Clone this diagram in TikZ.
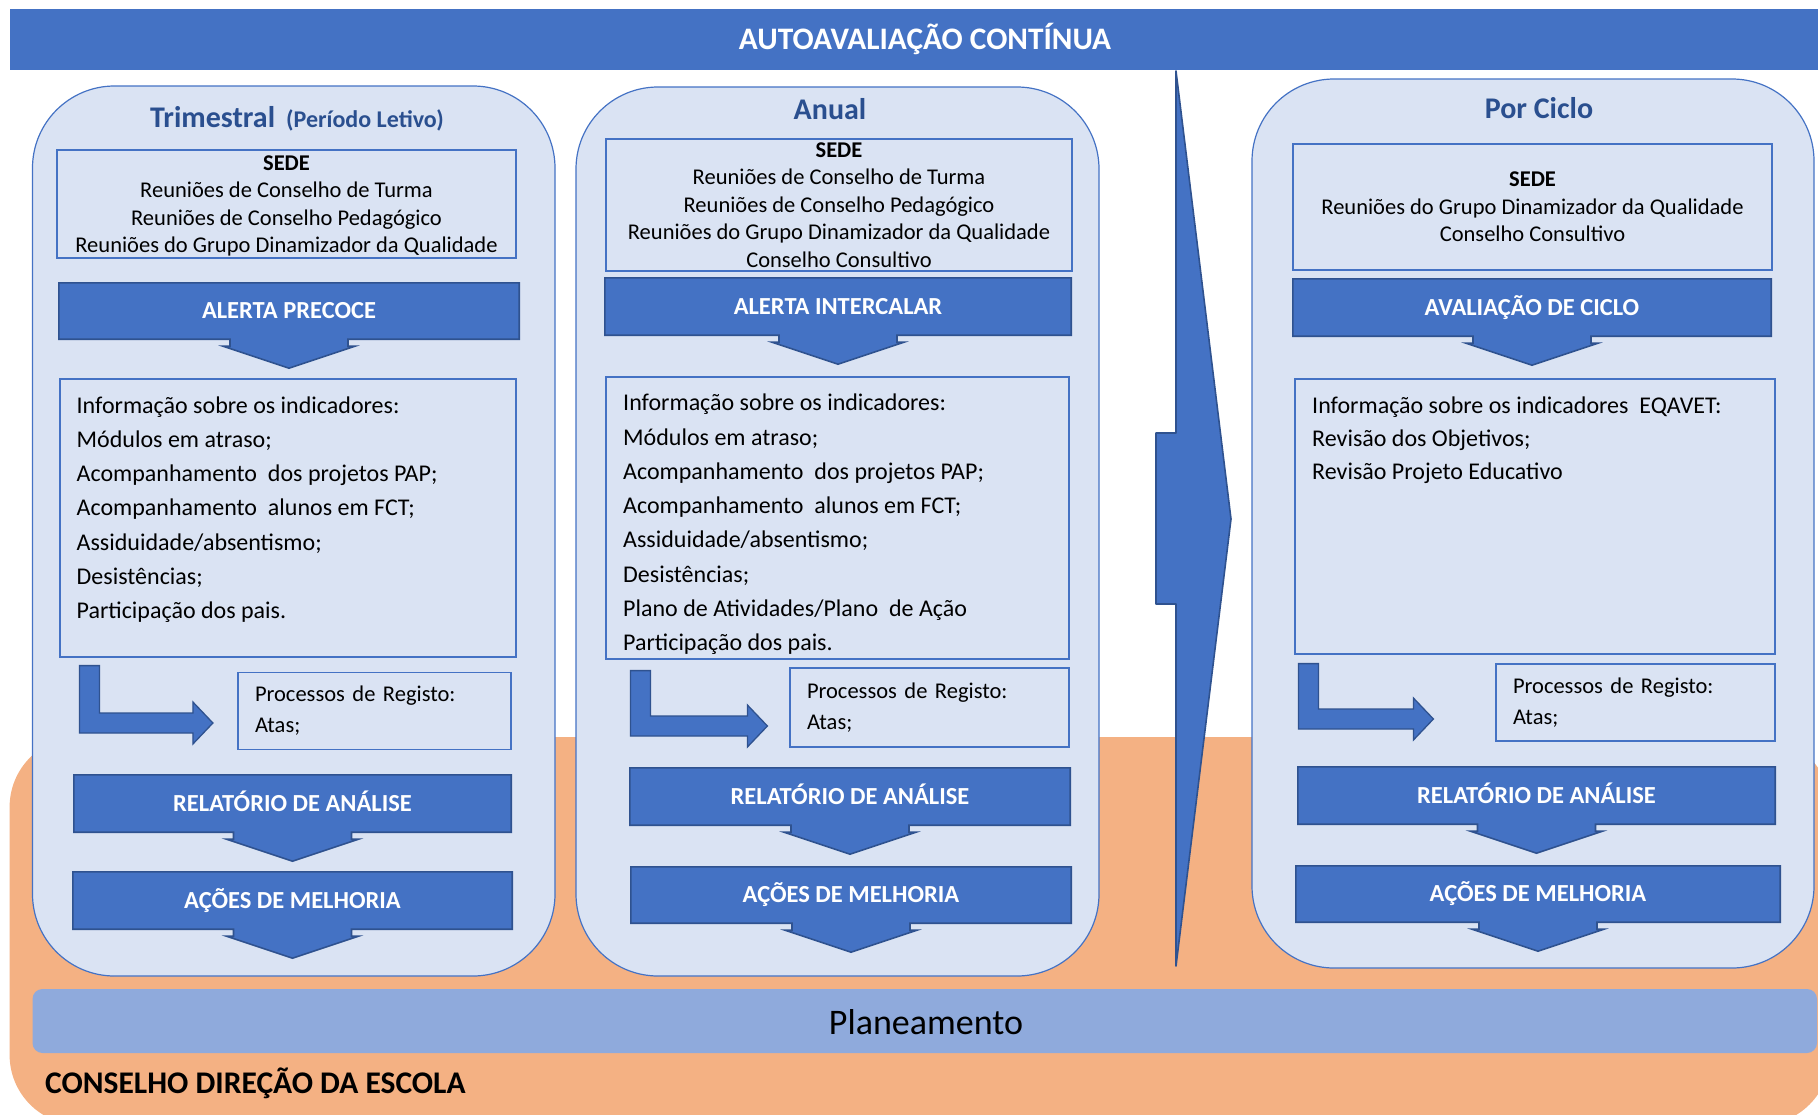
\documentclass[tikz,border=0pt]{standalone}
\usepackage{fontspec}
\setmainfont{Carlito}
\usetikzlibrary{calc,positioning}

\definecolor{azul}{HTML}{4472C4}
\definecolor{azulescuro}{HTML}{2F528F}
\definecolor{azulclaro}{HTML}{DAE3F3}
\definecolor{azulplan}{HTML}{8FAADC}
\definecolor{laranja}{HTML}{F4B183}
\definecolor{corTitulo}{HTML}{2A4F8F}

\pgfdeclarelayer{fundo}
\pgfdeclarelayer{meio}
\pgfsetlayers{fundo,meio,main}

\tikzset{
  coluna/.style={draw=azul, line width=1.2pt, fill=azulclaro, rounded corners=82pt, inner sep=0pt},
  caixa/.style={draw=azul, line width=1.2pt, fill=azulclaro, inner sep=0pt},
  sede/.style={caixa, align=center, text depth=0pt, font=\fontsize{22.5}{27.5}\selectfont},
  lista/.style={inner sep=0pt, align=left, anchor=base west, font=\fontsize{24}{34.3}\selectfont},
  registo/.style={caixa, align=left, inner xsep=17pt, font=\fontsize{22.5}{31}\selectfont},
  faixa/.style={inner sep=0pt, text=white, text height=15.8pt, text depth=0pt,
    font=\fontsize{24.5}{28}\selectfont\bfseries},
  seta/.style={fill=azul, draw=azulescuro, line width=1.6pt},
  titulo/.style={inner sep=0pt, anchor=base, text=corTitulo, font=\fontsize{30}{36}\selectfont\bfseries},
}

% faixa azul com seta para baixo
\newcommand{\faixaseta}[1]{%
  \begin{pgfonlayer}{meio}
  \draw[seta] (#1.north west) -- (#1.north east) -- (#1.south east)
    -- ($(#1.south)+(59,0)$) -- ($(#1.south)+(59,-7)$) -- ($(#1.south)+(66,-7)$)
    -- ($(#1.south)+(0,-29)$) -- ($(#1.south)+(-66,-7)$) -- ($(#1.south)+(-59,-7)$)
    -- ($(#1.south)+(-59,0)$) -- (#1.south west) -- cycle;
  \end{pgfonlayer}}

% seta em L: #1 canto superior, #2 ponta
\newcommand{\lbend}[2]{%
  \draw[seta, line width=1.3pt] let \p1=(#1), \p2=(#2) in
    (\x1,\y1) -- (\x1+20pt,\y1) -- (\x1+20pt,\y2+10pt) -- (\x2-20pt,\y2+10pt)
    -- (\x2-20pt,\y2+21pt) -- (\x2,\y2) -- (\x2-20pt,\y2-21pt) -- (\x2-20pt,\y2-10pt)
    -- (\x1,\y2-10pt) -- cycle;}

\begin{document}
\begin{tikzpicture}[x=1pt,y=1pt]
\useasboundingbox (0,0) rectangle (1818,-1114);

\begin{pgfonlayer}{fundo}
\begin{scope}
\clip (0,0) rectangle (1818,-1114);
\fill[laranja, rounded corners=70pt] (9.6,-737) rectangle (1830,-1125);
\end{scope}
\node[coluna, minimum width=522.5pt, minimum height=890pt] (col1) at (293.75,-531) {};
\node[coluna, minimum width=523pt, minimum height=889pt] (col2) at (837.5,-531.5) {};
\node[coluna, minimum width=562pt, minimum height=889pt] (col3) at (1533,-523.5) {};
\end{pgfonlayer}

\begin{scope}
\clip (0,0) rectangle (1818,-1114);
\node[fill=azul, minimum width=1830pt, minimum height=61pt, inner sep=0pt] (topo) at (924.6,-39.5) {};
\end{scope}
\node[inner sep=0pt, anchor=base, text=white, font=\fontsize{31.3}{36}\selectfont\bfseries] (topotxt) at (925,-49) {AUTOAVALIAÇÃO CONTÍNUA};

\node[fill=azulplan, rounded corners=10pt, minimum width=1784.5pt, minimum height=64pt, inner sep=0pt] (plan) at (924.75,-1021) {};
\node[inner sep=0pt, anchor=base, font=\fontsize{36}{40}\selectfont] (plantxt) at (926,-1034) {Planeamento};
\node[inner sep=0pt, anchor=base west, font=\fontsize{31.5}{36}\selectfont\bfseries] (conselho) at (45,-1093) {CONSELHO DIREÇÃO DA ESCOLA};

% Trimestral
\node[titulo] (tit1) at (297,-127) {Trimestral\hspace{11pt}{\fontsize{24}{28}\selectfont(Período Letivo)}};
\node[sede, minimum width=459pt, minimum height=108pt] (sede1) at (286.5,-204)
  {\textbf{SEDE}\\Reuniões de Conselho de Turma\\Reuniões de Conselho Pedagógico\\Reuniões do Grupo Dinamizador da Qualidade};
\node[faixa, minimum width=460pt, minimum height=56pt] (alerta1) at (289,-311) {ALERTA PRECOCE};
\faixaseta{alerta1}
\node[caixa, minimum width=456pt, minimum height=278pt] (info1) at (288,-518) {};
\node[lista] (lista1) at (76.5,-618.8) {Informação sobre os indicadores:\\Módulos em atraso;\\
  Acompanhamento\ \ dos projetos PAP;\\Acompanhamento\ \ alunos em FCT;\\Assiduidade/absentismo;\\
  Desistências;\\Participação dos pais.};
\node[registo, text width=239pt, minimum height=77pt] (reg1) at (374.5,-711) {Processos de Registo:\\Atas;};
\coordinate (l1a) at ([shift={(20,-8)}]info1.south west);
\coordinate (l1b) at ([shift={(-24.5,-12)}]reg1.west);
\lbend{l1a}{l1b}
\node[faixa, minimum width=437pt, minimum height=57pt] (rel1) at (292.5,-803.5) {RELATÓRIO DE ANÁLISE};
\faixaseta{rel1}
\node[faixa, minimum width=439pt, minimum height=57pt] (acoes1) at (292.5,-900.5) {AÇÕES DE MELHORIA};
\faixaseta{acoes1}

% Anual
\node[titulo] (tit2) at (830,-119) {Anual};
\node[sede, minimum width=466pt, minimum height=132pt] (sede2) at (839,-205)
  {\textbf{SEDE}\\Reuniões de Conselho de Turma\\Reuniões de Conselho Pedagógico\\Reuniões do Grupo Dinamizador da Qualidade\\Conselho Consultivo};
\node[faixa, minimum width=466pt, minimum height=57pt] (alerta2) at (838,-306.5) {ALERTA INTERCALAR};
\faixaseta{alerta2}
\node[caixa, minimum width=463pt, minimum height=282pt] (info2) at (837.5,-518) {};
\node[lista] (lista2) at (623,-650.8) {Informação sobre os indicadores:\\Módulos em atraso;\\
  Acompanhamento\ \ dos projetos PAP;\\Acompanhamento\ \ alunos em FCT;\\Assiduidade/absentismo;\\
  Desistências;\\Plano de Atividades/Plano\ \ de Ação\\Participação dos pais.};
\node[registo, text width=245pt, minimum height=79pt] (reg2) at (929.5,-707.5) {Processos de Registo:\\Atas;};
\coordinate (l2a) at ([shift={(25,-11)}]info2.south west);
\coordinate (l2b) at ([shift={(-22,-18.5)}]reg2.west);
\lbend{l2a}{l2b}
\node[faixa, minimum width=440pt, minimum height=57pt] (rel2) at (850,-796.5) {RELATÓRIO DE ANÁLISE};
\faixaseta{rel2}
\node[faixa, minimum width=440pt, minimum height=56pt] (acoes2) at (851,-895) {AÇÕES DE MELHORIA};
\faixaseta{acoes2}

% seta grande
\draw[seta, line join=round] (1156,-433) -- (1176,-433) -- (1176,-71) -- (1231,-519)
  -- (1176,-966) -- (1176,-604) -- (1156,-604) -- cycle;

% Por Ciclo
\node[titulo] (tit3) at (1539,-118) {Por Ciclo};
\node[sede, minimum width=479pt, minimum height=126pt] (sede3) at (1532.5,-207)
  {\textbf{SEDE}\\Reuniões do Grupo Dinamizador da Qualidade\\Conselho Consultivo};
\node[faixa, minimum width=478pt, minimum height=57pt] (alerta3) at (1532,-307.5) {AVALIAÇÃO DE CICLO};
\faixaseta{alerta3}
\node[caixa, minimum width=480pt, minimum height=275pt] (info3) at (1535,-516.5) {};
\node[lista, font=\fontsize{24}{33}\selectfont] (lista3) at (1312,-479) {Informação sobre os indicadores\ \ EQAVET:\\
  Revisão dos Objetivos;\\Revisão Projeto Educativo};
\node[registo, text width=245pt, minimum height=77pt] (reg3) at (1635.5,-702.5) {Processos de Registo:\\Atas;};
\coordinate (l3a) at ([shift={(4,-9)}]info3.south west);
\coordinate (l3b) at ([shift={(-62,-16.5)}]reg3.west);
\lbend{l3a}{l3b}
\node[faixa, minimum width=477pt, minimum height=57pt] (rel3) at (1536.5,-795.5) {RELATÓRIO DE ANÁLISE};
\faixaseta{rel3}
\node[faixa, minimum width=484pt, minimum height=56pt] (acoes3) at (1538,-894) {AÇÕES DE MELHORIA};
\faixaseta{acoes3}
\end{tikzpicture}
\end{document}
